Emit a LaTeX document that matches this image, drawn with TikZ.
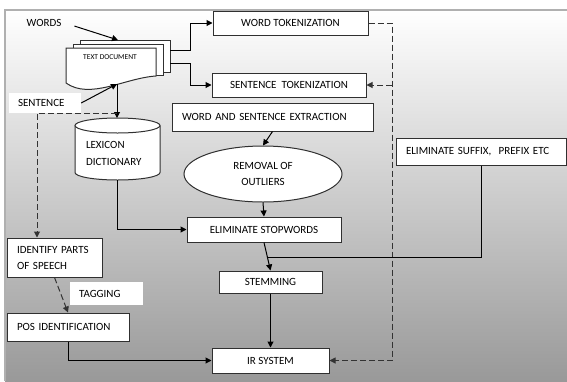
\documentclass[tikz,border=0pt]{standalone}
\usepackage{fontspec}
\setmainfont{Carlito}
\usetikzlibrary{arrows.meta,shapes.geometric,calc}
\definecolor{boxline}{HTML}{303030}
\definecolor{dashline}{HTML}{333333}
\definecolor{framegray}{HTML}{B0B0B0}
\definecolor{botgray}{HTML}{999999}

\begin{document}
\begin{tikzpicture}[x=1pt,y=-1pt,
  box/.style={draw=boxline,fill=white,line width=1pt,inner sep=0pt},
  lbl/.style={font=\fontsize{11}{16}\selectfont},
  arr/.style={-{Triangle[length=6pt,width=6pt]},line width=1pt},
  dsh/.style={draw=dashline,dash pattern=on 6pt off 3pt,line width=1pt}]
  \useasboundingbox (0,0) rectangle (567,381);
  \shade[top color=white,bottom color=botgray] (5,10) rectangle (567,381);
  \draw[framegray,line width=1.2pt] (5,381) -- (5,10) -- (567,10);

  \node[lbl] (words) at (44,23) {WORDS};
  \node[lbl,fill=white,text width=54pt,inner xsep=9pt,align=left,minimum height=20pt] (sentence) at (45,103) {SENTENCE};
  \node[lbl,fill=white,text width=55pt,inner xsep=9pt,align=left,minimum height=23pt] (tagging) at (106.5,293.5) {TAGGING};

  \draw[boxline,fill=white,line width=1pt] (80,40) rectangle (170,72);
  \draw[boxline,fill=white,line width=1pt] (73,44) rectangle (163,75);
  \draw[boxline,fill=white,line width=1pt] (66,48) -- (66,83) .. controls (90,100) and (125,78) .. (156,76) -- (156,48) -- cycle;
  \node[font=\fontsize{7.5}{8}\selectfont] (doc) at (110,57) {TEXT DOCUMENT};
  \coordinate (docbot) at (117,84);
  \coordinate (dk1) at (170,50);
  \coordinate (dk2) at (170,63);

  \draw[boxline,fill=white,line width=1pt] (75,125.5) -- (75,172.5) arc[start angle=180,end angle=360,x radius=42.5pt,y radius=7.5pt] -- (160,125.5);
  \draw[boxline,fill=white,line width=1pt] (117.5,125.5) ellipse [x radius=42.5pt,y radius=7.5pt];
  \node[font=\fontsize{11}{17}\selectfont,text width=64pt,align=left] (lexicon) at (118,153.5) {LEXICON\\DICTIONARY};
  \coordinate (lextop) at (117,118);
  \coordinate (lexbot) at (117,180);
  \coordinate (split) at (117,113);

  \node[box,lbl,minimum width=155pt,minimum height=24pt] (wordtok) at (290.5,23) {WORD TOKENIZATION};
  \node[box,lbl,minimum width=154pt,minimum height=24pt] (senttok) at (289,85) {SENTENCE\ \ TOKENIZATION};
  \node[box,lbl,text width=181pt,inner xsep=10pt,align=left,minimum height=28pt] (extract) at (272.5,117) {WORD AND SENTENCE EXTRACTION};
  \node[ellipse,draw=boxline,fill=white,line width=1pt,inner sep=0pt,minimum width=158pt,minimum height=56pt,lbl,align=center] (outliers) at (263,174) {REMOVAL OF\\OUTLIERS};
  \node[box,lbl,minimum width=154pt,minimum height=25pt] (stopwords) at (264,229.5) {ELIMINATE STOPWORDS};
  \node[box,lbl,text width=150.5pt,inner xsep=10pt,align=left,minimum height=27pt] (suffix) at (481.25,151.5) {ELIMINATE SUFFIX,\ \ PREFIX ETC};
  \node[box,lbl,minimum width=103pt,minimum height=22pt] (stemming) at (270.5,282) {STEMMING};
  \node[box,lbl,text width=75pt,inner xsep=10pt,align=left,minimum height=39pt] (idparts) at (54.5,257.5) {IDENTIFY PARTS\\OF SPEECH};
  \node[box,lbl,text width=102pt,inner xsep=10pt,align=left,minimum height=28pt] (pos) at (68,327) {POS IDENTIFICATION};
  \node[box,lbl,minimum width=117pt,minimum height=25pt] (irsys) at (270.5,360.5) {IR SYSTEM};
  \coordinate (rc) at (392,23);

  \draw[arr,shorten <=10pt] (words.east) -- (118,40);
  \draw[arr] (sentence.east) -- (docbot);
  \draw[arr] (docbot) -- (lextop);
  \draw[dsh,arr] (split) -| ([xshift=-17.5pt]idparts.north);
  \draw[arr] (dk1) -- ++(20,0) |- (wordtok.west);
  \draw[arr] (dk2) -- ++(20,0) |- (senttok.west);
  \draw[dsh,arr] (wordtok.east) -- (rc) |- (irsys.east);
  \draw[dsh,arr] (rc |- senttok.east) -- (senttok.east);
  \draw[arr] (extract.south) -- (outliers.north);
  \draw[arr] (outliers.south) -- (stopwords.north);
  \draw[arr] (lexbot) |- (stopwords.west);
  \draw[arr] (stopwords.south) -- (stemming.north);
  \draw[line width=1pt] (suffix.south) |- ($(stopwords.south)!0.55!(stemming.north)$);
  \draw[arr] (stemming.south) -- (irsys.north);
  \draw[dsh,arr] (idparts.south) -- (pos.north);
  \draw[arr] (pos.south) |- (irsys.west);
\end{tikzpicture}
\end{document}
